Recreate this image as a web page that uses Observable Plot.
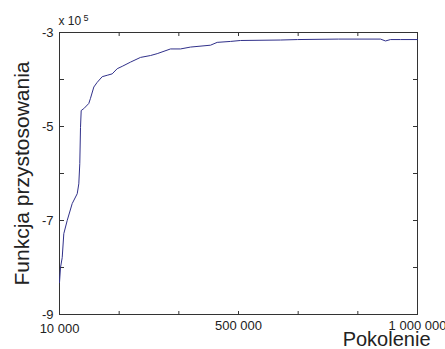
<!DOCTYPE html>
<html><head><meta charset="utf-8">
<script src="https://cdn.jsdelivr.net/npm/d3@7"></script>
<script src="https://cdn.jsdelivr.net/npm/@observablehq/plot@0.6"></script>
<style>body{margin:0;background:#fff}</style>
</head><body><div id="chart"></div>
<script>
const generations = [10000,12765,17500,21900,31300,45100,59000,63400,66100,68100,70000,77200,91000,95700,104900,114300,128100,141900,155700,169600,183400,206300,234000,261700,280200,317000,344600,372300,427600,446100,482900,510500,621200,668200,781500,897700,911500,925300,953000,1000000];
const fitness = [-8.32,-8.0,-7.79,-7.28,-7.0,-6.64,-6.43,-6.22,-5.79,-5.02,-4.66,-4.62,-4.51,-4.40,-4.16,-4.06,-3.94,-3.91,-3.88,-3.77,-3.72,-3.63,-3.53,-3.49,-3.45,-3.35,-3.35,-3.31,-3.27,-3.21,-3.19,-3.17,-3.16,-3.15,-3.14,-3.14,-3.18,-3.15,-3.15,-3.15];
const xTicks = [10000,175000,340000,505000,670000,835000,1000000];
const xTickLabels = ["10 000","","","500 000","","","1 000 000"];
const yTicks = [-9,-8,-7,-6,-5,-4,-3];
const yTickLabels = ["-9","","-7","","-5","","-3"];

const data = generations.map((g,i)=>({g, f: fitness[i]}));
const font = "'Liberation Sans', Arial, sans-serif";
const xfmt = d => xTickLabels[xTicks.indexOf(d)];
const chart = Plot.plot({
  width: 445, height: 349,
  marginLeft: 59, marginRight: 28, marginTop: 32, marginBottom: 35,
  style: {fontFamily: font, fontSize: "13px", color: "#222", background: "#fff"},
  x: {domain: [10000, 1000000]},
  y: {domain: [-9, -3]},
  marks: [
    Plot.frame({stroke: "#333"}),
    Plot.axisX({ticks: xTicks.slice(1), tickSize: 0, tickPadding: 6, fontSize: 13, tickFormat: xfmt, label: null}),
    Plot.axisX({ticks: xTicks.slice(0,1), tickSize: 0, tickPadding: 9, fontSize: 13, tickFormat: xfmt, label: null}),
    Plot.axisX({ticks: xTicks.slice(1,-1), anchor: "top", frameAnchor: "bottom", text: null, tickSize: 4, stroke: "#333", label: null}),
    Plot.axisX({ticks: xTicks.slice(1,-1), anchor: "bottom", frameAnchor: "top", text: null, tickSize: 4, stroke: "#333", label: null}),
    Plot.axisY({ticks: yTicks, tickSize: 0, tickPadding: 6, fontSize: 13,
      tickFormat: d=>yTickLabels[yTicks.indexOf(d)], label: null}),
    Plot.axisY({ticks: yTicks.slice(1,-1), anchor: "right", frameAnchor: "left", text: null, tickSize: 4, stroke: "#333", label: null}),
    Plot.axisY({ticks: yTicks.slice(1,-1), anchor: "left", frameAnchor: "right", text: null, tickSize: 4, stroke: "#333", label: null}),
    Plot.line(data, {x: "g", y: "f", stroke: "#30308a", strokeWidth: 1}),
    Plot.text(["x 10"], {frameAnchor: "top-left", dx: -1, dy: -11, textAnchor: "start", lineAnchor: "middle", fontSize: 12, fill: "#222"}),
    Plot.text(["5"], {frameAnchor: "top-left", dx: 24, dy: -14, textAnchor: "start", lineAnchor: "middle", fontSize: 9, fill: "#222"}),
    Plot.text(["Funkcja przystosowania"], {frameAnchor: "left", rotate: -90, dx: -37, textAnchor: "middle", lineAnchor: "middle", fontSize: 21, fill: "#222"}),
    Plot.text(["Pokolenie"], {frameAnchor: "bottom-right", dx: 13, dy: 25.5, textAnchor: "end", lineAnchor: "middle", fontSize: 20, fill: "#222"})
  ]
});
document.getElementById("chart").appendChild(chart);
</script>
</body></html>
